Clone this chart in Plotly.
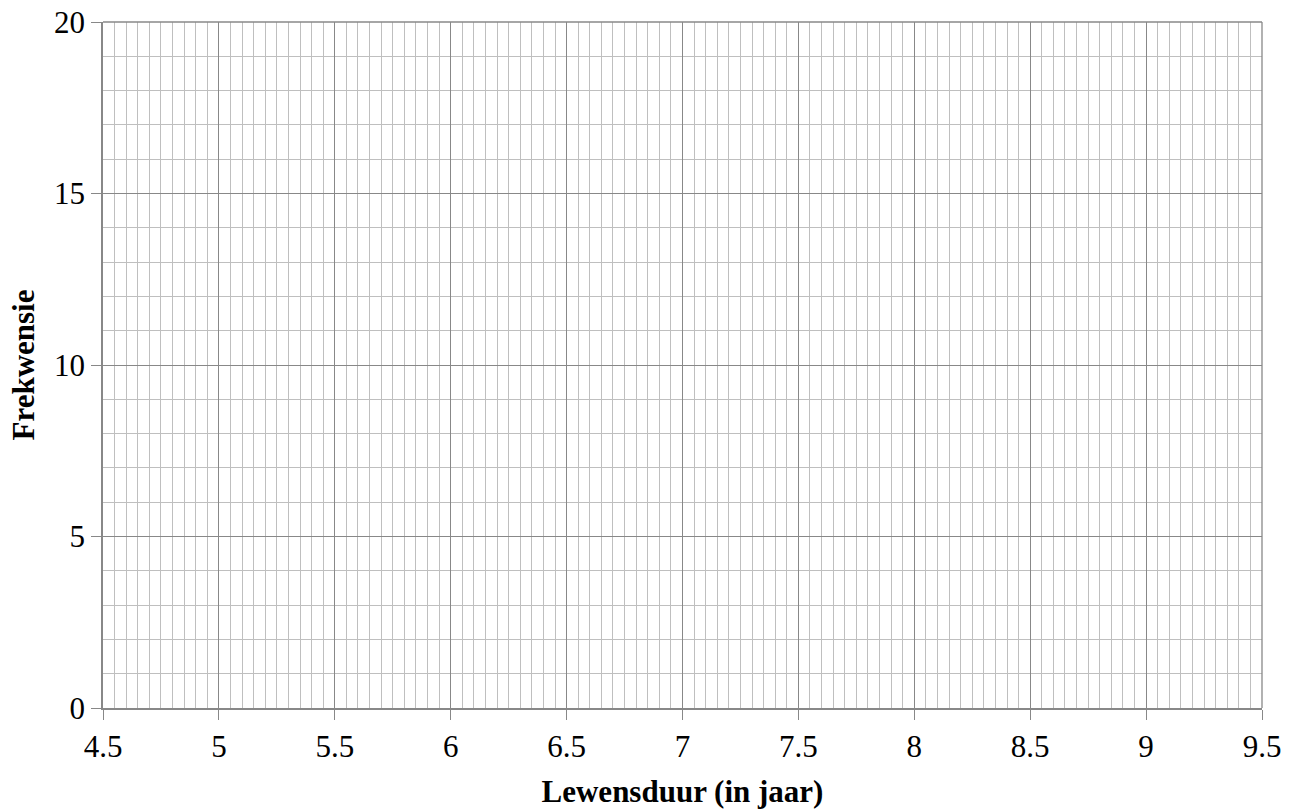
import plotly.graph_objects as go

# Empty graph paper for a histogram / frequency polygon
x_range = [4.5, 9.5]
y_range = [0, 20]
x_major = [4.5, 5, 5.5, 6, 6.5, 7, 7.5, 8, 8.5, 9, 9.5]
x_labels = ["4.5", "5", "5.5", "6", "6.5", "7", "7.5", "8", "8.5", "9", "9.5"]
y_major = [0, 5, 10, 15, 20]
x_minor_step = 0.05
y_minor_step = 1
x_title = "Lewensduur (in jaar)"
y_title = "Frekwensie"

fig = go.Figure()
fig.add_trace(go.Scatter(x=[], y=[], mode="lines", showlegend=False))

font = dict(family="Liberation Serif, Times New Roman, serif", size=31, color="black")
MAJ = "#888888"
MIN = "#bfbfbf"

fig.update_xaxes(
    range=x_range, tickmode="array", tickvals=x_major, ticktext=x_labels,
    showgrid=True, gridcolor=MAJ, gridwidth=1.3,
    minor=dict(dtick=x_minor_step, tick0=4.5, showgrid=True, gridcolor=MIN, gridwidth=1.3, ticks=""),
    showline=True, linecolor=MAJ, linewidth=1.5, mirror=False,
    ticks="outside", ticklen=10, tickcolor=MAJ, tickwidth=1.3,
    tickfont=font, zeroline=False, automargin=False, ticklabeloverflow="allow",
    title=dict(text="<b>" + x_title + "</b>", font=font, standoff=17),
)
fig.update_yaxes(
    range=y_range, tickmode="array", tickvals=y_major,
    showgrid=True, gridcolor=MAJ, gridwidth=1.3,
    minor=dict(dtick=y_minor_step, tick0=0, showgrid=True, gridcolor=MIN, gridwidth=1.3, ticks=""),
    showline=True, linecolor=MAJ, linewidth=1.5,
    ticks="outside", ticklen=10, tickcolor=MAJ, tickwidth=1.3,
    tickfont=font, zeroline=False, automargin=False, ticklabeloverflow="allow",
    title=dict(text="<b>" + y_title + "</b>", font=font, standoff=10),
)
# frame lines on the top and right edges of the grid
fig.add_shape(type="line", xref="paper", yref="paper", x0=1, x1=1, y0=0, y1=1,
              line=dict(color=MAJ, width=1.3))
fig.add_shape(type="line", xref="paper", yref="paper", x0=0, x1=1, y0=1, y1=1,
              line=dict(color=MAJ, width=1.5))

fig.update_layout(
    width=1302, height=812,
    margin=dict(l=103, r=40, t=22, b=104),
    paper_bgcolor="white", plot_bgcolor="white",
    font=font,
)

fig.write_html("out.html", config={"displayModeBar": False},
               post_script="document.body.style.margin='0';")
